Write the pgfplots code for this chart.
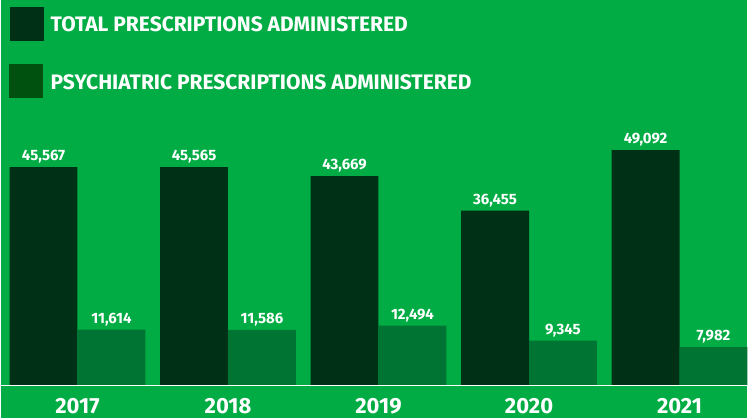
\documentclass[border=0pt]{standalone}
\usepackage{fontspec}
\setmainfont{Fira Sans}
\usepackage{pgfplots}
\pgfplotsset{compat=1.18}
\definecolor{bg}{RGB}{0,172,67}
\definecolor{darkbar}{RGB}{0,48,21}
\definecolor{midbar}{RGB}{0,116,50}
\definecolor{legtwo}{RGB}{0,80,15}
\begin{document}
\begin{tikzpicture}[x=1pt,y=1pt]
\fill[bg] (0,0) rectangle (748,419);
% legend
\fill[darkbar] (9,378) rectangle (43,412);
\fill[legtwo] (8,321) rectangle (42,355);
\node[anchor=base west, inner sep=0, text=white, font=\bfseries\fontsize{21}{21}\selectfont] at (50,387) {TOTAL PRESCRIPTIONS ADMINISTERED};
\node[anchor=base west, inner sep=0, text=white, font=\bfseries\fontsize{21}{21}\selectfont] at (50,329) {PSYCHIATRIC PRESCRIPTIONS ADMINISTERED};
\begin{axis}[
  at={(0pt,33pt)}, anchor=origin,
  scale only axis, width=748pt, height=288pt,
  xmin=0, xmax=748, ymin=0, ymax=60000,
  ybar, bar width=68,
  axis line style={draw=none},
  major tick length=0pt,
  ytick=\empty,
  xtick={77,227.75,378.5,529.25,680},
  xticklabels={2017,2018,2019,2020,2021},
  xticklabel style={text=white, font=\bfseries\fontsize{22}{22}\selectfont,
    inner sep=0.5pt, anchor=base, yshift=-28pt},
  /pgf/number format/.cd, 1000 sep={,}, assume math mode=true,
  /pgfplots/.cd,
  nodes near coords,
  every node near coord/.append style={text=white, font=\bfseries\fontsize{15}{15}\selectfont},
  clip=false,
]
\addplot[fill=darkbar, draw=none, bar shift=-34] coordinates {
  (77,45567) (227.75,45565) (378.5,43669) (529.25,36455) (680,49092)
};
\addplot[fill=midbar, draw=none, bar shift=34] coordinates {
  (77,11614) (227.75,11586) (378.5,12494) (529.25,9345) (680,7982)
};
\draw[white, line width=1.2pt] (rel axis cs:0,0) -- (rel axis cs:1,0);
\end{axis}
\end{tikzpicture}
\end{document}
